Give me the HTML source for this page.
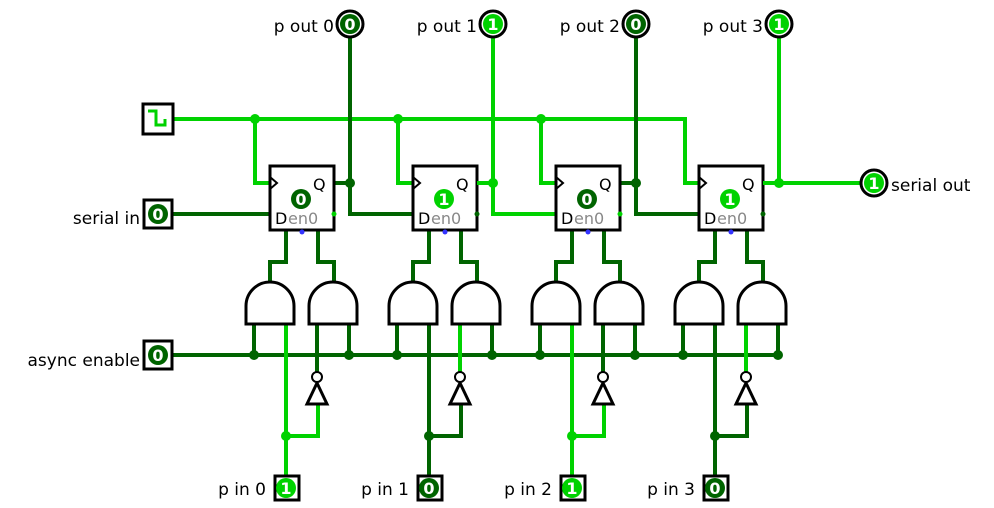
<!DOCTYPE html><html><head><style>body{margin:0;background:#fff}svg{display:block}text{font-family:"DejaVu Sans","Liberation Sans",sans-serif}</style></head><body>
<svg width="994" height="508" viewBox="0 0 994 508" xmlns="http://www.w3.org/2000/svg">
<defs>
<g id="ff">
<path d="M334,183H350M286,230V262H270V282M318,230V262H334V282M254,324V355M349,324V355" stroke="#006400" stroke-width="4" fill="none"/>
<rect x="270" y="166" width="64" height="64" fill="#fff" stroke="#000" stroke-width="3"/>
<path d="M270,177l7,6l-7,6" fill="none" stroke="#000" stroke-width="2"/>
<text x="313" y="190" font-size="16">Q</text>
<text x="275" y="224" font-size="16">D</text>
<text x="288" y="224" font-size="16" fill="#888">en0</text>
<circle cx="302" cy="232" r="2.5" fill="#3333ff"/>
<circle cx="254" cy="355" r="5" fill="#006400"/><circle cx="349" cy="355" r="5" fill="#006400"/>
<path d="M246,324H294V306A24,24 0 0 0 246,306Z" fill="#fff" stroke="#000" stroke-width="3"/>
<path d="M309,324H357V306A24,24 0 0 0 309,306Z" fill="#fff" stroke="#000" stroke-width="3"/>
<polygon points="307,404 327,404 317,383" fill="#fff" stroke="#000" stroke-width="3"/>
<rect x="275" y="476" width="24" height="24" fill="#fff" stroke="#000" stroke-width="3"/>
</g>
</defs>
<path d="M172,119H685V183H699" stroke="#00d200" stroke-width="4" fill="none"/>
<path d="M172,214H270M172,355H779" stroke="#006400" stroke-width="4" fill="none"/>
<rect x="143" y="104" width="30" height="30" fill="#fff" stroke="#000" stroke-width="3"/>
<path d="M148,111h8v14h9v-6" stroke="#00d200" stroke-width="3" fill="none"/>
<rect x="144" y="200" width="28" height="28" fill="#fff" stroke="#000" stroke-width="3"/>
<circle cx="158" cy="214" r="10" fill="#006400"/><text x="158" y="220" font-size="16" fill="#fff" text-anchor="middle" font-weight="bold">0</text>
<text x="140" y="224" font-size="17" text-anchor="end">serial in</text>
<rect x="144" y="341" width="28" height="28" fill="#fff" stroke="#000" stroke-width="3"/>
<circle cx="158" cy="355" r="10" fill="#006400"/><text x="158" y="361" font-size="16" fill="#fff" text-anchor="middle" font-weight="bold">0</text>
<text x="140" y="366" font-size="17" text-anchor="end">async enable</text>

<g>
<path d="M255,119V183H270" stroke="#00d200" stroke-width="4" fill="none"/><circle cx="255" cy="119" r="5" fill="#00d200"/>
<path d="M350,24V214H413" stroke="#006400" stroke-width="4" fill="none"/><circle cx="350" cy="183" r="5" fill="#006400"/>
<path d="M286,324V487M286,436H318V404" stroke="#00d200" stroke-width="4" fill="none"/><circle cx="286" cy="436" r="5" fill="#00d200"/>
<path d="M317,324V372" stroke="#006400" stroke-width="4"/>
<use href="#ff"/>
<circle cx="317" cy="377" r="5" fill="#fff" stroke="#000" stroke-width="2"/>
<circle cx="301" cy="199" r="10" fill="#006400"/><text x="301" y="205" font-size="16" fill="#fff" text-anchor="middle" font-weight="bold">0</text>
<circle cx="334" cy="214" r="2.5" fill="#00d200"/>
<circle cx="286" cy="488" r="10" fill="#00d200"/><text x="286" y="494" font-size="16" fill="#fff" text-anchor="middle" font-weight="bold">1</text>
<text x="266" y="495" font-size="17" text-anchor="end">p in 0</text>
<circle cx="350" cy="24" r="13" fill="#fff" stroke="#000" stroke-width="3"/><circle cx="350" cy="24" r="10" fill="#006400"/><text x="350" y="30" font-size="16" fill="#fff" text-anchor="middle" font-weight="bold">0</text>
<text x="334" y="32" font-size="17" text-anchor="end">p out 0</text>
</g>
<g transform="translate(143,0)">
<path d="M255,119V183H270" stroke="#00d200" stroke-width="4" fill="none"/><circle cx="255" cy="119" r="5" fill="#00d200"/>
<path d="M350,24V214H413" stroke="#00d200" stroke-width="4" fill="none"/><circle cx="350" cy="183" r="5" fill="#00d200"/>
<path d="M286,324V487M286,436H318V404" stroke="#006400" stroke-width="4" fill="none"/><circle cx="286" cy="436" r="5" fill="#006400"/>
<path d="M317,324V372" stroke="#00d200" stroke-width="4"/>
<use href="#ff"/>
<path d="M334,183H350" stroke="#00d200" stroke-width="4"/>
<circle cx="317" cy="377" r="5" fill="#fff" stroke="#000" stroke-width="2"/>
<circle cx="301" cy="199" r="10" fill="#00d200"/><text x="301" y="205" font-size="16" fill="#fff" text-anchor="middle" font-weight="bold">1</text>
<circle cx="334" cy="214" r="2.5" fill="#006400"/>
<circle cx="286" cy="488" r="10" fill="#006400"/><text x="286" y="494" font-size="16" fill="#fff" text-anchor="middle" font-weight="bold">0</text>
<text x="266" y="495" font-size="17" text-anchor="end">p in 1</text>
<circle cx="350" cy="24" r="13" fill="#fff" stroke="#000" stroke-width="3"/><circle cx="350" cy="24" r="10" fill="#00d200"/><text x="350" y="30" font-size="16" fill="#fff" text-anchor="middle" font-weight="bold">1</text>
<text x="334" y="32" font-size="17" text-anchor="end">p out 1</text>
</g>
<g transform="translate(286,0)">
<path d="M255,119V183H270" stroke="#00d200" stroke-width="4" fill="none"/><circle cx="255" cy="119" r="5" fill="#00d200"/>
<path d="M350,24V214H413" stroke="#006400" stroke-width="4" fill="none"/><circle cx="350" cy="183" r="5" fill="#006400"/>
<path d="M286,324V487M286,436H318V404" stroke="#00d200" stroke-width="4" fill="none"/><circle cx="286" cy="436" r="5" fill="#00d200"/>
<path d="M317,324V372" stroke="#006400" stroke-width="4"/>
<use href="#ff"/>
<circle cx="317" cy="377" r="5" fill="#fff" stroke="#000" stroke-width="2"/>
<circle cx="301" cy="199" r="10" fill="#006400"/><text x="301" y="205" font-size="16" fill="#fff" text-anchor="middle" font-weight="bold">0</text>
<circle cx="334" cy="214" r="2.5" fill="#00d200"/>
<circle cx="286" cy="488" r="10" fill="#00d200"/><text x="286" y="494" font-size="16" fill="#fff" text-anchor="middle" font-weight="bold">1</text>
<text x="266" y="495" font-size="17" text-anchor="end">p in 2</text>
<circle cx="350" cy="24" r="13" fill="#fff" stroke="#000" stroke-width="3"/><circle cx="350" cy="24" r="10" fill="#006400"/><text x="350" y="30" font-size="16" fill="#fff" text-anchor="middle" font-weight="bold">0</text>
<text x="334" y="32" font-size="17" text-anchor="end">p out 2</text>
</g>
<g transform="translate(429,0)">
<path d="M350,24V183H443" stroke="#00d200" stroke-width="4" fill="none"/><circle cx="350" cy="183" r="5" fill="#00d200"/>
<path d="M286,324V487M286,436H318V404" stroke="#006400" stroke-width="4" fill="none"/><circle cx="286" cy="436" r="5" fill="#006400"/>
<path d="M317,324V372" stroke="#00d200" stroke-width="4"/>
<use href="#ff"/>
<path d="M334,183H350" stroke="#00d200" stroke-width="4"/>
<circle cx="317" cy="377" r="5" fill="#fff" stroke="#000" stroke-width="2"/>
<circle cx="301" cy="199" r="10" fill="#00d200"/><text x="301" y="205" font-size="16" fill="#fff" text-anchor="middle" font-weight="bold">1</text>
<circle cx="334" cy="214" r="2.5" fill="#006400"/>
<circle cx="286" cy="488" r="10" fill="#006400"/><text x="286" y="494" font-size="16" fill="#fff" text-anchor="middle" font-weight="bold">0</text>
<text x="266" y="495" font-size="17" text-anchor="end">p in 3</text>
<circle cx="350" cy="24" r="13" fill="#fff" stroke="#000" stroke-width="3"/><circle cx="350" cy="24" r="10" fill="#00d200"/><text x="350" y="30" font-size="16" fill="#fff" text-anchor="middle" font-weight="bold">1</text>
<text x="334" y="32" font-size="17" text-anchor="end">p out 3</text>
</g>
<circle cx="874" cy="183" r="13" fill="#fff" stroke="#000" stroke-width="3"/><circle cx="874" cy="183" r="10" fill="#00d200"/><text x="874" y="189" font-size="16" fill="#fff" text-anchor="middle" font-weight="bold">1</text>
<text x="891" y="191" font-size="17">serial out</text>
</svg>
</body></html>
